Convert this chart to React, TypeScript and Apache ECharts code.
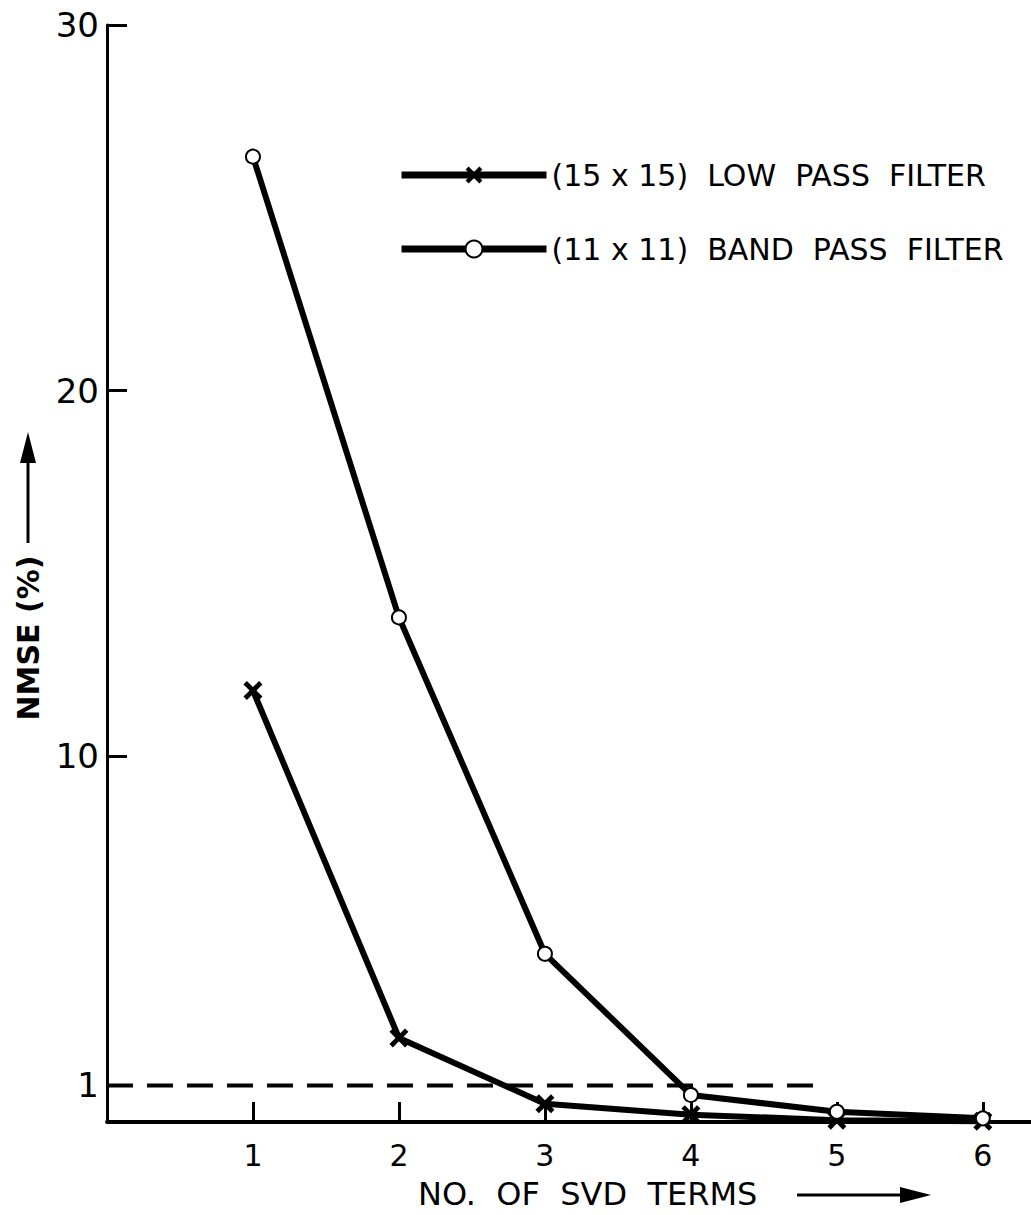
import React, { useEffect, useRef } from "react";
import * as echarts from "echarts";

const svdTerms = [1, 2, 3, 4, 5, 6];
const lowPassNmse = [11.8, 2.3, 0.5, 0.2, 0.05, 0.02];
const bandPassNmse = [26.4, 13.8, 4.6, 0.74, 0.28, 0.1];
const thresholdX = [0, 4.9];
const thresholdY = 1;
const xTickValues = [1, 2, 3, 4, 5, 6];
const yTickValues = [10, 20, 30];
const yLabelValues = [1, 10, 20, 30];
const seriesNames = ["(15 x 15)  LOW  PASS  FILTER", "(11 x 11)  BAND  PASS  FILTER"];
const xAxisTitle = "NO.  OF  SVD  TERMS";
const yAxisTitle = "NMSE (%)";

const FONT = "DejaVu Sans";
const INK = "#000";
const X_SYMBOL =
  "path://M0,1.8 L1.8,0 L5,3.2 L8.2,0 L10,1.8 L6.8,5 L10,8.2 L8.2,10 L5,6.8 L1.8,10 L0,8.2 L3.2,5 Z";

export default function App() {
  const ref = useRef<HTMLDivElement>(null);

  useEffect(() => {
    if (!ref.current) return;
    const chart = echarts.init(ref.current, null, { renderer: "svg" });
    const option = {
      animation: false,
      backgroundColor: "#fff",
      grid: { left: 107, right: 0, top: 25, bottom: 93, containLabel: false },
      xAxis: {
        type: "value",
        min: 0,
        max: 6.33,
        splitLine: { show: false },
        axisLine: { show: true, lineStyle: { color: INK, width: 4 } },
        axisTick: {
          show: true,
          inside: true,
          length: 20,
          customValues: xTickValues,
          lineStyle: { color: INK, width: 3 },
        },
        axisLabel: {
          customValues: xTickValues,
          margin: 18,
          fontSize: 30,
          color: INK,
          fontFamily: FONT,
        },
      },
      yAxis: {
        type: "value",
        min: 0,
        max: 30,
        splitLine: { show: false },
        axisLine: { show: true, lineStyle: { color: INK, width: 3 } },
        axisTick: {
          show: true,
          inside: true,
          length: 20,
          customValues: yTickValues,
          lineStyle: { color: INK, width: 3 },
        },
        axisLabel: {
          customValues: yLabelValues,
          margin: 8,
          fontSize: 34,
          color: INK,
          fontFamily: FONT,
        },
      },
      legend: {
        orient: "vertical",
        left: 398,
        top: 160,
        padding: 0,
        itemWidth: 145,
        itemHeight: 21,
        itemGap: 44,
        data: seriesNames,
        lineStyle: { width: 7, color: INK },
        textStyle: { fontSize: 30, color: INK, fontFamily: FONT },
      },
      series: [
        {
          name: seriesNames[0],
          type: "line",
          data: svdTerms.map((x, i) => [x, lowPassNmse[i]]),
          symbol: X_SYMBOL,
          symbolSize: 19,
          lineStyle: { color: INK, width: 6 },
          itemStyle: { color: INK },
          z: 3,
        },
        {
          name: seriesNames[1],
          type: "line",
          data: svdTerms.map((x, i) => [x, bandPassNmse[i]]),
          symbol: "emptyCircle",
          symbolSize: 14,
          lineStyle: { color: INK, width: 6 },
          itemStyle: { color: INK, borderColor: INK, borderWidth: 3 },
          z: 4,
        },
        {
          name: "threshold",
          type: "line",
          data: thresholdX.map((x) => [x, thresholdY]),
          symbol: "none",
          lineStyle: { color: INK, width: 4, type: [26, 14] },
          z: 2,
        },
      ],
      graphic: [
        {
          type: "text",
          x: 28,
          y: 638,
          rotation: Math.PI / 2,
          style: {
            text: yAxisTitle,
            fontSize: 30,
            fontWeight: "bold",
            fontFamily: FONT,
            fill: INK,
            textAlign: "center",
            textVerticalAlign: "middle",
          },
        },
        {
          type: "line",
          shape: { x1: 28, y1: 543, x2: 28, y2: 455 },
          style: { stroke: INK, lineWidth: 3 },
        },
        {
          type: "polygon",
          shape: { points: [[28, 432], [20, 463], [36, 463]] },
          style: { fill: INK },
        },
        {
          type: "text",
          x: 418,
          y: 1194,
          style: {
            text: xAxisTitle,
            fontSize: 32,
            fontFamily: FONT,
            fill: INK,
            textAlign: "left",
            textVerticalAlign: "middle",
          },
        },
        {
          type: "line",
          shape: { x1: 797, y1: 1195, x2: 905, y2: 1195 },
          style: { stroke: INK, lineWidth: 3 },
        },
        {
          type: "polygon",
          shape: { points: [[931, 1195], [900, 1187], [900, 1203]] },
          style: { fill: INK },
        },
      ],
    };
    chart.setOption(option);
    return () => chart.dispose();
  }, []);

  return (
    <div
      ref={ref}
      style={{ position: "fixed", left: 0, top: 0, width: 1031, height: 1215, background: "#fff" }}
    />
  );
}
